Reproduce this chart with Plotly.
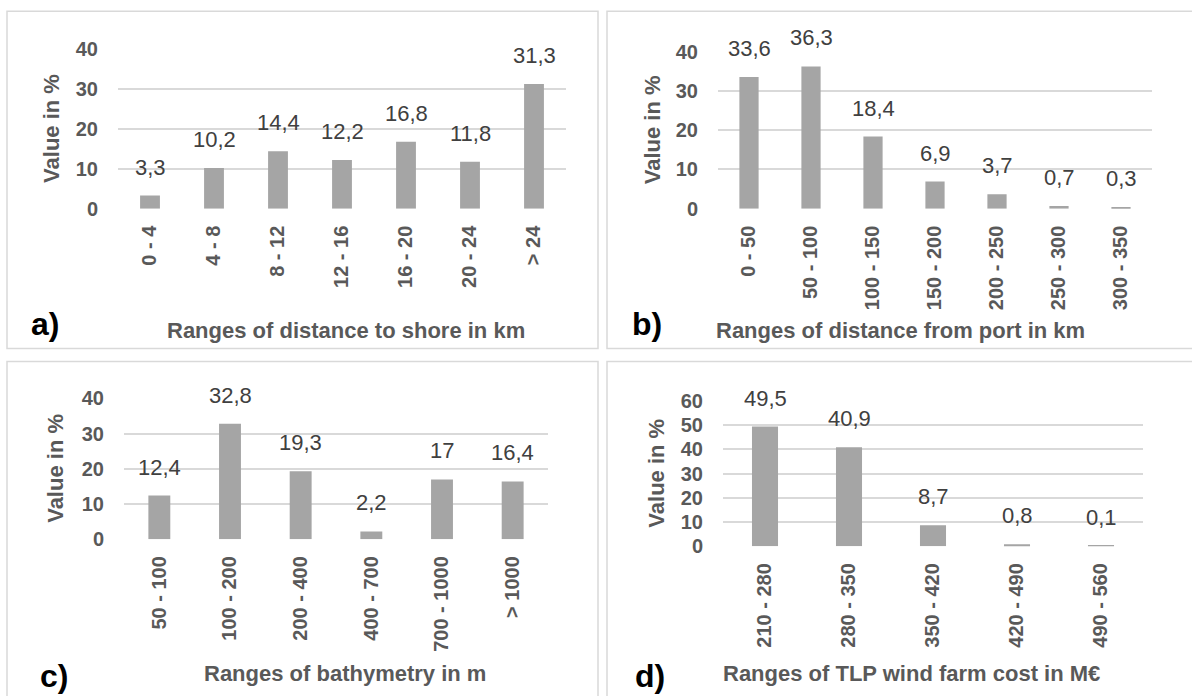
import plotly.graph_objects as go

# ---------------- data ----------------
cats_a = ["0 - 4", "4 - 8", "8 - 12", "12 - 16", "16 - 20", "20 - 24", "> 24"]
vals_a = [3.3, 10.2, 14.4, 12.2, 16.8, 11.8, 31.3]

cats_b = ["0 - 50", "50 - 100", "100 - 150", "150 - 200", "200 - 250", "250 - 300", "300 - 350"]
vals_b = [33.6, 36.3, 18.4, 6.9, 3.7, 0.7, 0.3]

cats_c = ["50 - 100", "100 - 200", "200 - 400", "400 - 700", "700 - 1000", "> 1000"]
vals_c = [12.4, 32.8, 19.3, 2.2, 17, 16.4]

cats_d = ["210 - 280", "280 - 350", "350 - 420", "420 - 490", "490 - 560"]
vals_d = [49.5, 40.9, 8.7, 0.8, 0.1]

x_titles = ["Ranges of distance to shore in km", "Ranges of distance from port in km",
            "Ranges of bathymetry in m", "Ranges of TLP wind farm cost in M€"]
panel_letters = ["a)", "b)", "c)", "d)"]
y_title = "Value in %"
y_max = [40, 40, 40, 60]

# ---------------- style / layout ----------------
W, H = 1192, 696
FONT = "Liberation Sans, Arial, sans-serif"
BAR = "#A5A5A5"
GRID = "#D9D9D9"
TXT = "#595959"
LBL = "#404040"

# target positions in pixels of the final picture
plots = [(118, 566, 48.3, 208), (718, 1152, 51, 208), (124, 548, 398, 539), (723, 1143, 400.7, 546)]
panels = [(7, 8, 598, 348), (607, 8, 1200, 348), (7, 361, 598, 740), (607, 361, 1200, 740)]
ytitle_x = [52, 652, 56, 657]
xtitle_pos = [(346, 330), (900, 330), (345, 673), (911, 673)]
letter_pos = [(45, 323), (647, 323), (54, 676), (650, 676)]

# the captured page is shown vertically as 10.06 + 0.9697 * y: place items accordingly
V_OFF, V_SCALE = 10.06, 0.9697


def px(x):
    return x / W


def py(y):
    y_page = (y - V_OFF) / V_SCALE
    return 1 - y_page / H


fig = go.Figure()
all_data = [(cats_a, vals_a), (cats_b, vals_b), (cats_c, vals_c), (cats_d, vals_d)]
annotations = []
shapes = []
layout = {}

for i, (cats, vals) in enumerate(all_data):
    n = "" if i == 0 else str(i + 1)
    xa, ya = "x" + n, "y" + n
    fig.add_trace(go.Bar(x=cats, y=vals, marker=dict(color=BAR, line=dict(width=0)),
                         xaxis=xa, yaxis=ya, showlegend=False, hoverinfo="x+y"))
    x0, x1, yt, yb = plots[i]
    layout["xaxis" + n] = dict(
        domain=[px(x0), px(x1)], anchor=ya, type="category",
        showgrid=False, showline=False, zeroline=False,
        tickangle=-90, ticks="", ticklabelstandoff=12,
        tickfont=dict(family=FONT, size=20, color=TXT, weight="bold"),
    )
    layout["yaxis" + n] = dict(
        domain=[py(yb), py(yt)], anchor=xa, range=[0, y_max[i]], dtick=10,
        showgrid=True, gridcolor=GRID, gridwidth=1.5, zeroline=False, showline=False,
        ticks="", ticklabelstandoff=19,
        tickfont=dict(family=FONT, size=20, color=TXT, weight="bold"),
    )
    for c, v in zip(cats, vals):
        annotations.append(dict(
            x=c, y=v, xref=xa, yref=ya, text=str(v).replace(".", ","),
            showarrow=False, yanchor="bottom", yshift=14,
            font=dict(family=FONT, size=22, color=LBL),
        ))
    annotations.append(dict(
        x=px(ytitle_x[i]), y=py((yt + yb) / 2), xref="paper", yref="paper",
        text=y_title, textangle=-90, showarrow=False, xanchor="center", yanchor="middle",
        font=dict(family=FONT, size=22, color=TXT, weight="bold"),
    ))
    annotations.append(dict(
        x=px(xtitle_pos[i][0]), y=py(xtitle_pos[i][1]), xref="paper", yref="paper",
        text=x_titles[i], showarrow=False, xanchor="center", yanchor="middle",
        font=dict(family=FONT, size=22, color=TXT, weight="bold"),
    ))
    annotations.append(dict(
        x=px(letter_pos[i][0]), y=py(letter_pos[i][1]), xref="paper", yref="paper",
        text=panel_letters[i], showarrow=False, xanchor="center", yanchor="middle",
        font=dict(family=FONT, size=32, color="#000000", weight="bold"),
    ))
    bx0, by0, bx1, by1 = panels[i]
    top = min(py(by0), 0.9995)
    shapes.append(dict(type="rect", xref="paper", yref="paper",
                       x0=px(bx0), x1=px(bx1), y0=py(by1), y1=top,
                       line=dict(color=GRID, width=1.5), fillcolor="rgba(0,0,0,0)", layer="below"))

fig.update_layout(
    width=W, height=H, margin=dict(l=0, r=0, t=0, b=0),
    paper_bgcolor="white", plot_bgcolor="white",
    bargap=0.69, annotations=annotations, shapes=shapes, **layout,
)

post = (
    "document.body.style.margin='0';"
    "document.body.style.overflow='hidden';"
    "var gd=document.getElementById('{plot_id}');"
    "gd.style.position='absolute';gd.style.left='0px';gd.style.top='0px';"
)
fig.write_html("out.html", config={"displayModeBar": False}, post_script=post)
